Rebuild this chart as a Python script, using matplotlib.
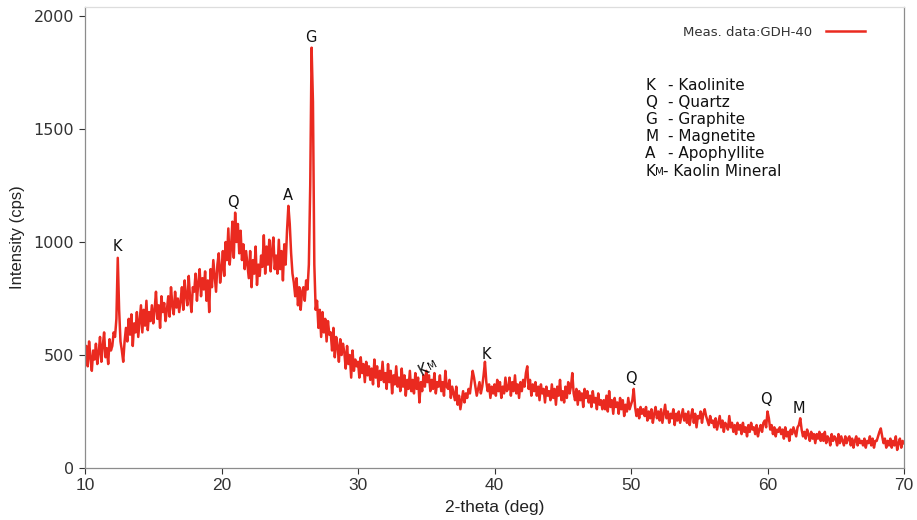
import numpy as np
import matplotlib
matplotlib.use("Agg")
import matplotlib.pyplot as plt

plt.rcParams['font.family'] = ['DejaVu Sans']

# 2-theta from 10 to 70 deg in 0.1 deg steps; one row per degree
two_theta_start = 10.0
two_theta_step = 0.1
intensity_rows = [
    [470, 540, 450, 560, 490, 430, 520, 480, 550, 460],   # 10
    [510, 580, 470, 540, 600, 490, 530, 460, 570, 520],   # 11
    [540, 600, 580, 660, 930, 700, 560, 520, 470, 560],   # 12
    [620, 560, 660, 590, 680, 540, 640, 600, 690, 580],   # 13
    [650, 720, 600, 700, 630, 740, 610, 690, 650, 720],   # 14
    [640, 700, 780, 660, 720, 620, 760, 690, 730, 650],   # 15
    [700, 760, 670, 800, 720, 680, 780, 710, 750, 690],   # 16
    [740, 800, 700, 830, 760, 720, 850, 750, 690, 800],   # 17
    [780, 860, 740, 820, 880, 760, 840, 790, 870, 740],   # 18
    [830, 690, 880, 800, 920, 850, 780, 900, 950, 820],   # 19
    [880, 960, 850, 1000, 920, 1060, 900, 980, 1090, 930],  # 20
    [1130, 1000, 1080, 950, 1050, 920, 990, 880, 960, 900],  # 21
    [840, 960, 800, 920, 860, 980, 810, 900, 850, 940],   # 22
    [890, 1030, 860, 980, 900, 1010, 870, 960, 1020, 880],  # 23
    [940, 860, 1010, 880, 960, 830, 990, 900, 1050, 1160],  # 24
    [1080, 950, 860, 820, 760, 840, 720, 800, 700, 780],  # 25
    [800, 740, 830, 790, 900, 1250, 1860, 1620, 900, 700],  # 26
    [740, 620, 700, 580, 690, 600, 660, 560, 650, 590],   # 27
    [600, 520, 620, 490, 580, 540, 470, 570, 500, 550],   # 28
    [510, 440, 540, 460, 500, 400, 520, 430, 480, 450],   # 29
    [470, 400, 490, 420, 460, 380, 470, 410, 450, 390],   # 30
    [440, 370, 480, 400, 450, 360, 430, 390, 470, 380],   # 31
    [420, 350, 460, 380, 430, 330, 410, 370, 450, 360],   # 32
    [400, 340, 440, 360, 410, 320, 390, 350, 430, 340],   # 33
    [390, 330, 420, 350, 400, 290, 380, 340, 410, 360],   # 34
    [430, 380, 410, 340, 390, 350, 420, 330, 380, 360],   # 35
    [410, 340, 380, 320, 430, 360, 350, 390, 310, 360],   # 36
    [330, 300, 360, 280, 320, 260, 300, 340, 290, 330],   # 37
    [310, 350, 330, 380, 430, 400, 360, 320, 350, 380],   # 38
    [330, 360, 410, 470, 380, 340, 370, 310, 360, 330],   # 39
    [370, 320, 390, 340, 380, 310, 360, 330, 400, 340],   # 40
    [350, 400, 320, 380, 340, 410, 330, 370, 310, 380],   # 41
    [340, 390, 360, 420, 450, 350, 390, 320, 370, 340],   # 42
    [380, 320, 360, 300, 370, 330, 350, 290, 360, 320],   # 43
    [340, 300, 370, 310, 350, 280, 360, 320, 390, 300],   # 44
    [340, 290, 360, 310, 380, 330, 360, 420, 330, 300],   # 45
    [350, 280, 340, 300, 330, 270, 350, 310, 340, 290],   # 46
    [320, 270, 340, 290, 310, 260, 330, 280, 300, 260],   # 47
    [300, 260, 320, 250, 340, 270, 300, 240, 310, 270],   # 48
    [290, 240, 310, 260, 300, 230, 280, 250, 310, 260],   # 49
    [280, 300, 350, 270, 230, 260, 220, 270, 240, 260],   # 50
    [230, 270, 210, 250, 220, 260, 200, 240, 270, 220],   # 51
    [250, 210, 260, 200, 240, 280, 220, 250, 200, 240],   # 52
    [220, 260, 190, 240, 210, 250, 200, 230, 260, 210],   # 53
    [240, 200, 250, 190, 230, 260, 200, 240, 180, 230],   # 54
    [220, 250, 200, 240, 260, 230, 210, 190, 230, 200],   # 55
    [210, 180, 220, 170, 200, 230, 180, 210, 160, 200],   # 56
    [190, 170, 230, 180, 200, 160, 190, 150, 200, 170],   # 57
    [190, 150, 200, 160, 180, 140, 190, 160, 200, 170],   # 58
    [180, 150, 190, 140, 170, 190, 160, 200, 210, 180],   # 59
    [250, 220, 170, 190, 150, 180, 140, 170, 160, 180],   # 60
    [150, 170, 130, 180, 140, 160, 120, 170, 150, 180],   # 61
    [160, 140, 180, 190, 220, 170, 140, 160, 130, 170],   # 62
    [150, 120, 160, 130, 150, 110, 150, 130, 160, 120],   # 63
    [150, 120, 160, 110, 140, 130, 100, 150, 120, 140],   # 64
    [130, 100, 150, 110, 140, 120, 100, 140, 110, 130],   # 65
    [140, 100, 130, 90, 120, 140, 100, 130, 110, 120],    # 66
    [100, 130, 90, 120, 110, 140, 100, 130, 90, 120],     # 67
    [120, 140, 160, 175, 140, 110, 130, 90, 120, 100],    # 68
    [130, 90, 120, 100, 140, 80, 110, 130, 90, 120],      # 69
    [110],                                                # 70
]

peak_labels = ["K", "Q", "A", "G", "K", "Q", "Q", "M"]
peak_x = [12.35, 20.85, 24.87, 26.56, 39.4, 50.0, 59.9, 62.3]
peak_y = [978, 1177, 1204, 1903, 504, 398, 301, 265]

legend_label = "Meas. data:GDH-40"
mineral_symbols = ["K", "Q", "G", "M", "A"]
mineral_names = ["- Kaolinite", "- Quartz", "- Graphite", "- Magnetite", "- Apophyllite"]

x_ticks = [10, 20, 30, 40, 50, 60, 70]
y_ticks = [0, 500, 1000, 1500, 2000]

intensity = np.array([v for row in intensity_rows for v in row], dtype=float)
two_theta = two_theta_start + two_theta_step * np.arange(len(intensity))

fig = plt.figure(figsize=(9.17, 5.20), dpi=100)
ax = fig.add_axes([85 / 917, 1 - 468 / 520, (904 - 85) / 917, (468 - 7) / 520])

ax.plot(two_theta, intensity, color='#ea2a20', lw=1.8, label=legend_label)

ax.set_xlim(10, 70)
ax.set_ylim(0, 2040)
ax.set_xticks(x_ticks)
ax.set_yticks(y_ticks)
ax.tick_params(axis='both', colors='#333333', length=4, width=0.8, direction='out')
ax.tick_params(axis='y', labelsize=11.5, pad=4)
ax.tick_params(axis='x', pad=3)
for lbl in ax.get_xticklabels():
    lbl.set_fontfamily('Liberation Sans')
    lbl.set_fontsize(12.5)
for s in ['left', 'bottom', 'right']:
    ax.spines[s].set_color('#8c8c8c')
    ax.spines[s].set_linewidth(0.9)
ax.spines['top'].set_color('#dddddd')
ax.spines['top'].set_linewidth(0.9)

ax.set_xlabel("2-theta (deg)", fontsize=12.5, color='#222222', labelpad=5,
              family='Liberation Sans')
ax.set_ylabel("Intensity (cps)", fontsize=12, color='#222222', labelpad=6,
              family='Liberation Sans')

for lab, px, py in zip(peak_labels, peak_x, peak_y):
    ax.text(px, py, lab, fontsize=10.5, ha='center', va='center', color='#111111')
# Kaolin mineral label (K with small M), rotated
ax.annotate("K", xy=(34.8, 435), fontsize=10.5, ha='center', va='center',
            rotation=28, color='#111111')
ax.annotate("M", xy=(34.8, 435), xytext=(6.5, 3.0), textcoords='offset points',
            fontsize=7.5, ha='center', va='center', rotation=28, color='#111111')

leg = ax.legend(loc='upper right', bbox_to_anchor=(0.967, 0.985), frameon=False,
                markerfirst=False, fontsize=9.5, handlelength=3.0, handletextpad=1.0)
for t in leg.get_texts():
    t.set_color('#333333')

y0 = 0.83
dy = 0.0372
fs = 11
for i, (sym, name) in enumerate(zip(mineral_symbols, mineral_names)):
    yy = y0 - i * dy
    ax.text(0.684, yy, sym, transform=ax.transAxes, fontsize=fs, va='center',
            color='#111111')
    ax.text(0.712, yy, name, transform=ax.transAxes, fontsize=fs, va='center',
            color='#111111')
yy = y0 - 5 * dy
ax.text(0.684, yy, "K", transform=ax.transAxes, fontsize=fs, va='center', color='#111111')
ax.text(0.6955, yy - 0.002, "M", transform=ax.transAxes, fontsize=7.5, va='center',
        color='#111111')
ax.text(0.706, yy, "- Kaolin Mineral", transform=ax.transAxes, fontsize=fs,
        va='center', color='#111111')

fig.savefig("out.png", dpi=100)
